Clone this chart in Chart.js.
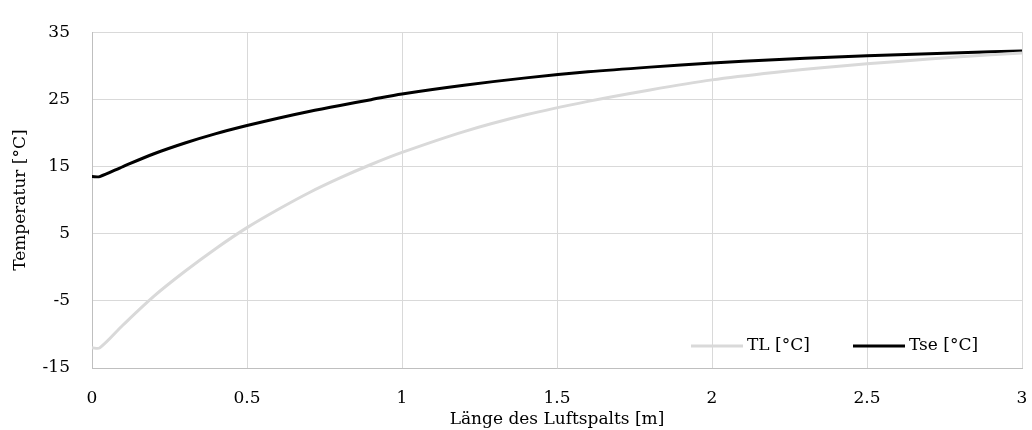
<!DOCTYPE html>
<html>
<head>
<meta charset="utf-8">
<script src="https://cdn.jsdelivr.net/npm/chart.js@4"></script>
<style>
  body { margin: 0; background: #fff; }
</style>
</head>
<body>
<canvas id="tempChart" width="1032" height="430"></canvas>
<script>
// values
const lengths = [0, 0.025, 0.1, 0.2, 0.3, 0.4, 0.5, 0.6, 0.7, 0.8, 0.9, 1.0, 1.2, 1.4, 1.6, 1.8, 2.0, 2.2, 2.4, 2.6, 2.8, 3.0];
const tlValues = [-12, -12, -8.6, -4.3, -0.6, 2.8, 5.9, 8.6, 11.1, 13.3, 15.3, 17.1, 20.2, 22.7, 24.7, 26.4, 27.9, 29.0, 29.9, 30.65, 31.35, 31.9];
const tseValues = [13.5, 13.5, 15.0, 16.9, 18.5, 19.9, 21.1, 22.2, 23.2, 24.1, 24.95, 25.8, 27.1, 28.2, 29.1, 29.8, 30.4, 30.9, 31.3, 31.65, 31.95, 32.2];
const seriesNames = ['TL [°C]', 'Tse [°C]'];
const xTicks = [0, 0.5, 1, 1.5, 2, 2.5, 3];
const yTicks = [-15, -5, 5, 15, 25, 35];

const fontFamily = '"DejaVu Serif", serif';
const gridColor = '#d9d9d9';

// legend sits inside the plot, bottom right
const insideLegend = {
    id: 'insideLegend',
    afterDraw(chart) {
        const c = chart.ctx;
        const area = chart.chartArea;
        const y = area.bottom - 22;
        const starts = [area.right - 331, area.right - 169];
        c.save();
        c.font = '17px ' + fontFamily;
        c.textBaseline = 'middle';
        c.textAlign = 'left';
        chart.data.datasets.forEach((ds, i) => {
            const x = starts[i];
            c.strokeStyle = ds.borderColor;
            c.lineWidth = 3;
            c.beginPath();
            c.moveTo(x, y);
            c.lineTo(x + 52, y);
            c.stroke();
            c.fillStyle = '#000';
            c.fillText(ds.label, x + 56, y);
        });
        c.restore();
    }
};

const ctx = document.getElementById('tempChart');

new Chart(ctx, {
    type: 'line',
    data: {
        datasets: [{
            label: seriesNames[0],
            data: lengths.map((x, i) => ({ x: x, y: tlValues[i] })),
            borderColor: '#d9d9d9',
            borderWidth: 3,
            pointRadius: 0,
            tension: 0.3
        }, {
            label: seriesNames[1],
            data: lengths.map((x, i) => ({ x: x, y: tseValues[i] })),
            borderColor: '#000000',
            borderWidth: 3,
            pointRadius: 0,
            tension: 0.3
        }]
    },
    options: {
        responsive: false,
        animation: false,
        layout: {
            padding: { left: 10, right: 10, top: 19, bottom: 0 }
        },
        plugins: {
            legend: { display: false },
            tooltip: { enabled: false }
        },
        scales: {
            x: {
                type: 'linear',
                min: xTicks[0],
                max: xTicks[xTicks.length - 1],
                afterBuildTicks: (scale) => {
                    scale.ticks = xTicks.map(v => ({ value: v }));
                },
                afterFit: (scale) => {
                    scale.height = 62;
                    scale.paddingLeft = 0;
                    scale.paddingRight = 0;
                },
                grid: { color: gridColor, drawTicks: false },
                border: { color: '#bfbfbf' },
                ticks: {
                    padding: 20,
                    color: '#000',
                    maxRotation: 0,
                    font: { family: fontFamily, size: 17 },
                    callback: (value) => String(value)
                },
                title: {
                    display: true,
                    text: 'Länge des Luftspalts [m]',
                    color: '#000',
                    padding: 0,
                    font: { family: fontFamily, size: 17 }
                }
            },
            y: {
                min: yTicks[0],
                max: yTicks[yTicks.length - 1],
                afterBuildTicks: (scale) => {
                    scale.ticks = yTicks.map(v => ({ value: v }));
                },
                afterFit: (scale) => { scale.width = 82; },
                grid: { color: gridColor, drawTicks: false },
                border: { color: '#bfbfbf' },
                ticks: {
                    padding: 22,
                    color: '#000',
                    font: { family: fontFamily, size: 17 },
                    callback: (value) => String(value)
                },
                title: {
                    display: true,
                    text: 'Temperatur [°C]',
                    color: '#000',
                    padding: 0,
                    font: { family: fontFamily, size: 17 }
                }
            }
        }
    },
    plugins: [insideLegend]
});
</script>
</body>
</html>
